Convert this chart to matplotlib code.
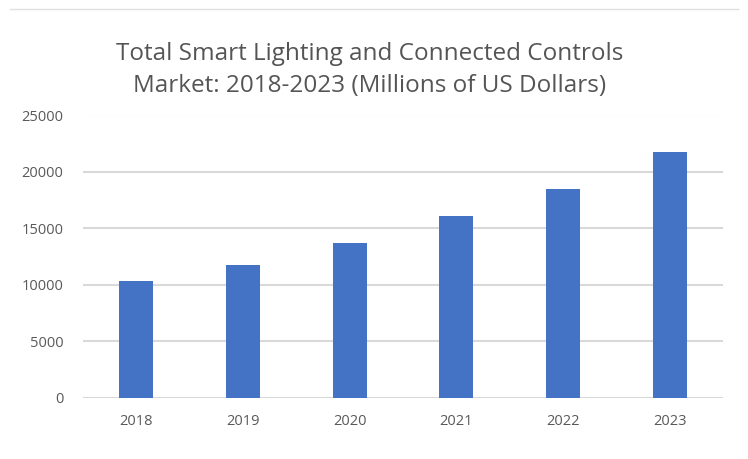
import matplotlib
matplotlib.use("Agg")
import matplotlib.pyplot as plt
from matplotlib.lines import Line2D

years = ["2018", "2019", "2020", "2021", "2022", "2023"]
market = [10300, 11800, 13700, 16100, 18500, 21800]
yticks = [0, 5000, 10000, 15000, 20000, 25000]

plt.rcParams['font.family'] = ['Open Sans', 'DejaVu Sans']

fig = plt.figure(figsize=(7.48, 4.59), dpi=100)
ax = fig.add_axes([83/748, 1-397.7/459, 640/748, 282.2/459])

x = range(len(years))
ax.bar(x, market, width=0.32, color='#4472C4', zorder=3)
ax.set_xlim(-0.5, len(years)-0.5)
ax.set_ylim(0, 25000)
ax.set_yticks(yticks)
ax.set_yticklabels([str(v) for v in yticks])
ax.set_xticks(list(x))
ax.set_xticklabels(years)
ax.yaxis.grid(True, color='#d9d9d9', linewidth=1.5, zorder=0)
for s in ax.spines.values():
    s.set_visible(False)
ax.tick_params(axis='both', length=0, colors='#595959', labelsize=10.5)
ax.tick_params(axis='y', pad=14)
ax.tick_params(axis='x', pad=12)

fig.text(370/748, 1-70/459, "Total Smart Lighting and Connected Controls\nMarket: 2018-2023 (Millions of US Dollars)",
         ha='center', va='center', fontsize=17.5, color='#555555', linespacing=1.5)

fig.add_artist(Line2D([10/748, 738/748], [1-9/459, 1-9/459], color='#e0e0e0', linewidth=1, transform=fig.transFigure))

fig.savefig("out.png", dpi=100)
